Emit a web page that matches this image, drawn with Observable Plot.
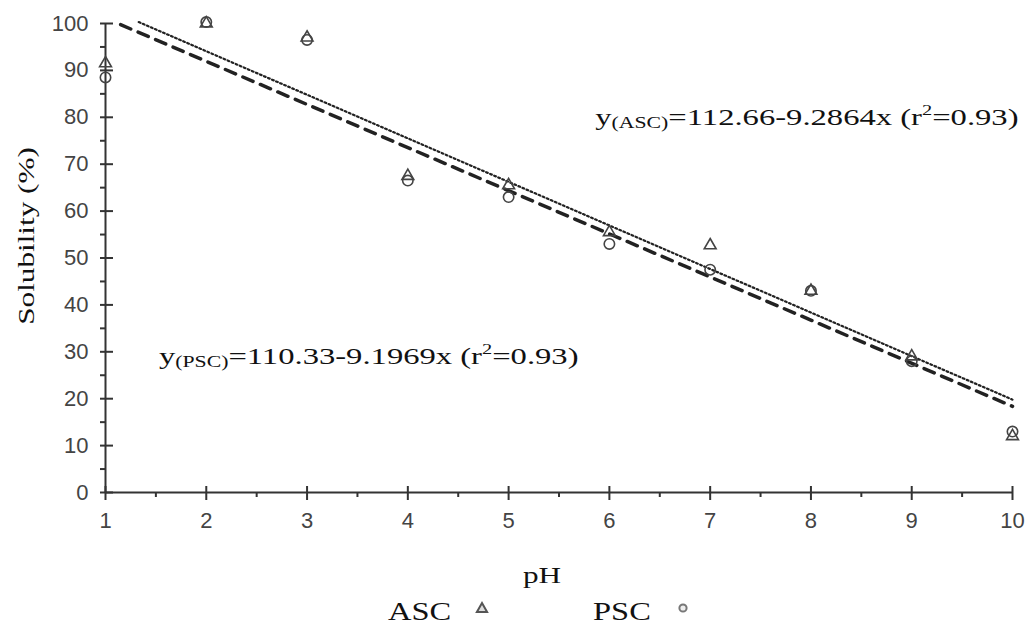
<!DOCTYPE html>
<html>
<head>
<meta charset="utf-8">
<script src="https://cdn.jsdelivr.net/npm/d3@7"></script>
<script src="https://cdn.jsdelivr.net/npm/@observablehq/plot@0.6"></script>
<style>
  html, body { margin: 0; padding: 0; background: #fff; }
  #chart svg { display: block; }
  #legend { display: block; }
</style>
</head>
<body>
<div id="chart"></div>
<svg id="legend" width="1031" height="40"></svg>
<script>
// ---- data ----
const pH = [1, 2, 3, 4, 5, 6, 7, 8, 9, 10];
const ascSolubility = [91.5, 100, 97, 67.5, 65.5, 55.5, 52.7, 43, 29, 12];
const pscSolubility = [88.5, 100.3, 96.5, 66.5, 63, 53, 47.5, 43, 28, 13];

// regression equations shown on the chart
const fitSeries = ["ASC", "PSC"];
const fitIntercept = [112.66, 110.33];
const fitSlope = [-9.2864, -9.1969];
const fitStart = [1.33, 1.15];
const fitEnd = [10, 10];
const fitR2 = [0.93, 0.93];

// annotation anchors (data units)
const annoX = [5.86, 1.53];
const annoY = [79.9, 29.1];

const yTicks = [0, 10, 20, 30, 40, 50, 60, 70, 80, 90, 100];
const yMinor = [5, 15, 25, 35, 45, 55, 65, 75, 85, 95];
const xTicks = [1, 2, 3, 4, 5, 6, 7, 8, 9, 10];
const xMinor = [1.5, 2.5, 3.5, 4.5, 5.5, 6.5, 7.5, 8.5, 9.5];

// ---- tables built from the arrays ----
const asc = pH.map((x, i) => ({x, y: ascSolubility[i]}));
const psc = pH.map((x, i) => ({x, y: pscSolubility[i]}));
const fits = fitSeries.map((s, i) => [fitStart[i], fitEnd[i]].map(x => ({series: s, x, y: fitIntercept[i] + fitSlope[i] * x})));
const annos = fitSeries.map((s, i) => ({
  series: s, x: annoX[i], y: annoY[i],
  label: `y(${s})=${fitIntercept[i]}-${Math.abs(fitSlope[i])}x (r2=${fitR2[i]})`
}));

const serif = "'Liberation Serif', 'Times New Roman', serif";
const sans = "'Liberation Sans', Arial, sans-serif";
const xMin = xTicks[0], xMax = xTicks[xTicks.length - 1];
const yMin = yTicks[0], yMax = yTicks[yTicks.length - 1];

const chart = Plot.plot({
  width: 1031,
  height: 595,
  marginTop: 23,
  marginBottom: 103,
  marginLeft: 105,
  marginRight: 19,
  style: {fontFamily: sans, fontSize: "22px", color: "#333", background: "#fff"},
  x: {domain: [xMin, xMax], axis: null},
  y: {domain: [yMin, yMax], axis: null},
  marks: [
    // regression lines
    Plot.line(fits[1], {x: "x", y: "y", stroke: "#222", strokeWidth: 3.5, strokeDasharray: "11,8"}),
    Plot.line(fits[0], {x: "x", y: "y", stroke: "#222", strokeWidth: 2.2, strokeDasharray: "1.8,2.6"}),
    // axis lines
    Plot.ruleX([xMin], {y1: yMin, y2: yMax, stroke: "#333", strokeWidth: 2}),
    Plot.ruleY([yMin], {x1: xMin, x2: xMax, stroke: "#333", strokeWidth: 2}),
    // y ticks (major cross the axis, minor outside)
    Plot.ruleY(yTicks, {x1: xMin, x2: xMin, insetLeft: -5, insetRight: -8, stroke: "#333", strokeWidth: 2}),
    Plot.ruleY(yMinor, {x1: xMin, x2: xMin, insetLeft: -5, insetRight: 0, stroke: "#333", strokeWidth: 2}),
    Plot.text(yTicks, {x: xMin, y: d => d, dx: -17, textAnchor: "end", lineAnchor: "middle",
      fontFamily: sans, fontSize: 22, fill: "#444"}),
    // x ticks
    Plot.ruleX(xTicks, {y1: yMin, y2: yMin, insetTop: -6, insetBottom: -8, stroke: "#333", strokeWidth: 2}),
    Plot.ruleX(xMinor, {y1: yMin, y2: yMin, insetTop: 0, insetBottom: -5, stroke: "#333", strokeWidth: 2}),
    Plot.text(xTicks, {x: d => d, y: yMin, dy: 28, textAnchor: "middle", lineAnchor: "middle",
      fontFamily: sans, fontSize: 22, fill: "#444"}),
    // data points
    Plot.dot(psc, {x: "x", y: "y", symbol: "circle", r: 5.2, stroke: "#444", strokeWidth: 1.6, fill: "none"}),
    Plot.dot(asc, {x: "x", y: "y", symbol: "triangle", r: 4.4, stroke: "#444", strokeWidth: 1.6, fill: "none"}),
    // equations
    Plot.text(annos, {x: "x", y: "y", text: "label", textAnchor: "start", lineAnchor: "middle",
      fontFamily: serif, fontSize: 24, fill: "#111"}),
    // axis titles
    Plot.text(["pH"], {frameAnchor: "bottom", dx: -17, dy: 83, textAnchor: "middle", lineAnchor: "middle",
      fontFamily: serif, fontSize: 24, fill: "#111"}),
    Plot.text(["Solubility (%)"], {frameAnchor: "left", dx: -79, dy: -22, rotate: -90,
      textAnchor: "middle", lineAnchor: "middle",
      fontFamily: serif, fontSize: 24, fill: "#111"})
  ]
});
document.getElementById("chart").appendChild(chart);

// rich text for the equations (subscript and superscript) and wide serif glyphs
const svg = d3.select(chart);
svg.selectAll("text").each(function () {
  const t = this.textContent;
  const el = d3.select(this);
  const serifText = t === "pH" || t === "Solubility (%)" || t.startsWith("y(");
  if (t.startsWith("y(")) {
    const m = t.match(/^y\((\w+)\)(=.*\(r)2(=.*)$/);
    if (m) {
      el.text(null);
      el.append("tspan").text("y");
      el.append("tspan").attr("font-size", 16).attr("dy", 3).text(`(${m[1]})`);
      el.append("tspan").attr("dy", -3).text(m[2]);
      el.append("tspan").attr("font-size", 15).attr("dy", -10).text("2");
      el.append("tspan").attr("dy", 10).text(m[3]);
    }
  }
  if (serifText) {
    const tr = el.attr("transform") || "";
    const k = t.startsWith("y(") ? 1.36 : 1.3;
    el.attr("transform", tr + ` scale(${k},1)`);
  }
});

// legend below the chart
const legend = d3.select("#legend");
legend.append("text").attr("transform", "translate(388,25) scale(1.3,1)")
  .attr("font-family", serif).attr("font-size", 25).attr("fill", "#111").text(fitSeries[0]);
legend.append("path").attr("d", d3.symbol(d3.symbolTriangle, 45)()).attr("transform", "translate(482,14)")
  .attr("fill", "#ddd").attr("stroke", "#555").attr("stroke-width", 2);
legend.append("text").attr("transform", "translate(593,25) scale(1.3,1)")
  .attr("font-family", serif).attr("font-size", 25).attr("fill", "#111").text(fitSeries[1]);
legend.append("circle").attr("cx", 683).attr("cy", 13).attr("r", 3.6)
  .attr("fill", "#eee").attr("stroke", "#777").attr("stroke-width", 2);
</script>
</body>
</html>
